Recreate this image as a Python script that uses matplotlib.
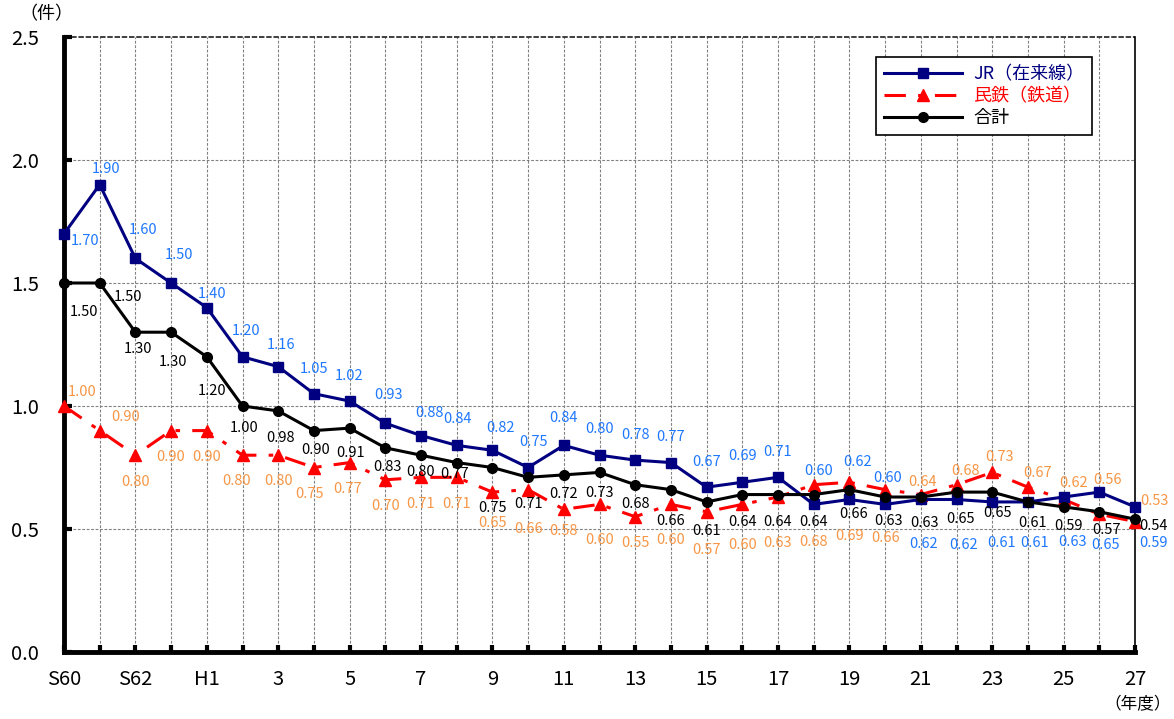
import matplotlib
matplotlib.use("Agg")
import matplotlib.pyplot as plt
from matplotlib.lines import Line2D

plt.rcParams['font.family'] = ['Noto Sans CJK JP', 'DejaVu Sans']

# 年度 (S60 .. H27)
years = ["S60", "S61", "S62", "S63", "H1"] + [str(n) for n in range(2, 28)]
tick_labels = [y if i % 2 == 0 else "" for i, y in enumerate(years)]

jr = [1.70, 1.90, 1.60, 1.50, 1.40, 1.20, 1.16, 1.05, 1.02, 0.93, 0.88,
      0.84, 0.82, 0.75, 0.84, 0.80, 0.78, 0.77, 0.67, 0.69, 0.71, 0.60,
      0.62, 0.60, 0.62, 0.62, 0.61, 0.61, 0.63, 0.65, 0.59]
minetsu = [1.00, 0.90, 0.80, 0.90, 0.90, 0.80, 0.80, 0.75, 0.77, 0.70, 0.71,
           0.71, 0.65, 0.66, 0.58, 0.60, 0.55, 0.60, 0.57, 0.60, 0.63, 0.68,
           0.69, 0.66, 0.64, 0.68, 0.73, 0.67, 0.62, 0.56, 0.53]
total = [1.50, 1.50, 1.30, 1.30, 1.20, 1.00, 0.98, 0.90, 0.91, 0.83, 0.80,
         0.77, 0.75, 0.71, 0.72, 0.73, 0.68, 0.66, 0.61, 0.64, 0.64, 0.64,
         0.66, 0.63, 0.63, 0.65, 0.65, 0.61, 0.59, 0.57, 0.54]

# label offsets from each marker, in pixels (right, down)
jr_off = [(21, 7), (6, -16), (8, -28), (8, -28), (5, -14), (4, -26), (3, -22),
          (0, -25), (-1, -25), (3, -28), (8, -23), (1, -26), (8, -22), (5, -25),
          (0, -27), (0, -26), (0, -25), (0, -26), (0, -25), (0, -26), (0, -25),
          (5, -33), (8, -37), (3, -26), (3, 45), (7, 46), (9, 41), (7, 41),
          (9, 45), (6, 53), (19, 36)]
mt_off = [(18, -14), (26, -14), (0, 27), (0, 26), (0, 26), (-6, 26), (0, 26),
          (-4, 26), (-2, 26), (0, 26), (0, 27), (0, 27), (0, 31), (0, 39),
          (0, 22), (0, 36), (0, 26), (0, 36), (0, 38), (0, 41), (0, 46),
          (0, 57), (0, 54), (0, 48), (2, -13), (9, -14), (7, -15), (10, -14),
          (10, -16), (8, -34), (19, -21)]
tot_off = [(20, 29), (28, 14), (3, 17), (2, 30), (5, 34), (2, 22), (2, 27),
           (2, 19), (1, 25), (2, 19), (0, 17), (-2, 11), (0, 41), (0, 27),
           (0, 19), (0, 21), (0, 19), (0, 31), (0, 29), (0, 27), (0, 27),
           (0, 27), (4, 24), (3, 24), (4, 26), (4, 27), (5, 21), (5, 21),
           (5, 19), (7, 18), (19, 7)]

x = list(range(len(years)))

fig = plt.figure(figsize=(11.74, 7.19), dpi=100)
ax = fig.add_axes([64 / 1174, 1 - 652 / 719, (1135 - 64) / 1174, (652 - 37) / 719])

ax.set_xlim(0, len(years) - 1)
ax.set_ylim(0, 2.5)

# grid
for i in x[1:-1]:
    ax.axvline(i, color="#808080", lw=0.8, ls=(0, (2.5, 1.5)), zorder=0)
for yv in [0.5, 1.0, 1.5, 2.0]:
    ax.axhline(yv, color="#808080", lw=0.8, ls=(0, (2.5, 1.5)), zorder=0)
ax.axhline(2.5, color="#303030", lw=1.3, ls=(0, (3, 1)), zorder=0, clip_on=False)

jr_line_c = "#000080"
jr_lab_c = "#1E78FF"
mt_line_c = "#FF0000"
mt_lab_c = "#F79646"
mt_dash = (0, (7, 4, 1.5, 4))

ax.plot(x, jr, color=jr_line_c, lw=2.2, marker="s", ms=7, zorder=4, clip_on=False,
        label="JR（在来線）")
ax.plot(x, minetsu, color=mt_line_c, lw=2.2, ls=mt_dash, marker="^",
        ms=8, zorder=3, clip_on=False, label="民鉄（鉄道）")
ax.plot(x, total, color="black", lw=2.2, marker="o", ms=7, zorder=5, clip_on=False,
        label="合計")


def put_labels(vals, offs, color):
    for i, (v, (dx, dy)) in enumerate(zip(vals, offs)):
        ax.annotate(f"{v:.2f}", (i, v), xytext=(dx, -dy), textcoords="offset pixels",
                    ha="center", va="center", fontsize=10.5, color=color,
                    annotation_clip=False, zorder=6)


put_labels(jr, jr_off, jr_lab_c)
put_labels(minetsu, mt_off, mt_lab_c)
put_labels(total, tot_off, "black")

# axes styling
ax.spines["top"].set_visible(False)
ax.spines["left"].set_linewidth(3.5)
ax.spines["bottom"].set_linewidth(3.5)
ax.spines["right"].set_linewidth(1.2)

ax.set_xticks(x)
ax.set_xticklabels(tick_labels, fontsize=14.5)
ax.set_yticks([0.0, 0.5, 1.0, 1.5, 2.0, 2.5])
ax.set_yticklabels(["0.0", "0.5", "1.0", "1.5", "2.0", "2.5"], fontsize=14.5)
ax.tick_params(axis="x", direction="in", length=5, width=3, pad=12)
ax.tick_params(axis="y", direction="in", length=6, width=3, pad=18)

fig.text(46 / 1174, 1 - 14 / 719, "（件）", ha="center", va="center", fontsize=13)
fig.text(1171 / 1174, 1 - 705 / 719, "（年度）", ha="right", va="center", fontsize=12)

handles = [
    Line2D([], [], color=jr_line_c, lw=2.2, marker="s", ms=7),
    Line2D([], [], color=mt_line_c, lw=2.2, ls=mt_dash, marker="^", ms=8),
    Line2D([], [], color="black", lw=2.2, marker="o", ms=7),
]
leg = ax.legend(handles, ["JR（在来線）", "民鉄（鉄道）", "合計"], loc="upper right",
                bbox_to_anchor=(0.96, 0.967), fontsize=13, handlelength=4.3,
                fancybox=False, framealpha=1, edgecolor="black", borderaxespad=0,
                labelspacing=0.22, borderpad=0.45, handletextpad=0.6)
leg.get_frame().set_linewidth(1.2)
for t, c in zip(leg.get_texts(), [jr_line_c, mt_line_c, "black"]):
    t.set_color(c)

fig.savefig("out.png", dpi=100)
